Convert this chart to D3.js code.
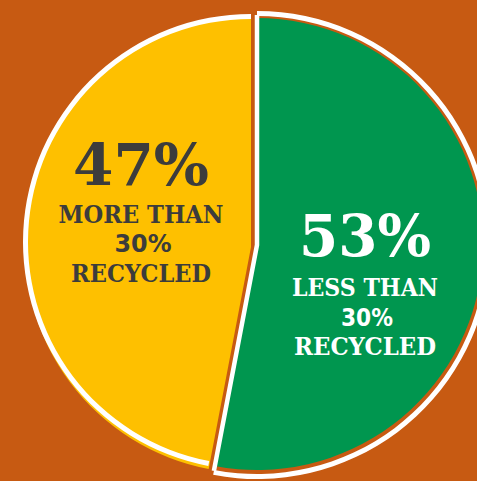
<!DOCTYPE html>
<html>
<head>
<meta charset="utf-8">
<script src="https://cdn.jsdelivr.net/npm/d3@7"></script>
<style>
  html, body { margin: 0; padding: 0; background: #c75a12; overflow: hidden; }
</style>
</head>
<body>
<div id="chart"></div>
<script>
// chart data
var categories = ["Less than 30% recycled", "More than 30% recycled"];
var values = [53, 47];
var pctLabels = ["53%", "47%"];
var subLabels = [["LESS THAN", "30%", "RECYCLED"], ["MORE THAN", "30%", "RECYCLED"]];
var colors = ["#00964f", "#fec000"];
var textColors = ["#ffffff", "#3c3c3c"];

var width = 477, height = 481;
var bg = "#c75a12";

var svg = d3.select("#chart").append("svg")
    .attr("width", width)
    .attr("height", height);

svg.append("rect")
    .attr("width", width)
    .attr("height", height)
    .attr("fill", bg);

var pie = d3.pie().sort(null).startAngle(0).endAngle(2 * Math.PI);
var slices = pie(values);

// each slice is drawn on its own, the green one pulled out a bit
var layout = [
    {cx: 257, cy: 245, rFill: 226, fillDy: -1, rRing: 229, ringW: 5, label: [108, 11]},
    {cx: 251, cy: 242, rFill: 226, fillDy: 0, rRing: 223, ringW: 5, label: [-110, -57]}
];

function arcR(r0, r1) { return d3.arc().innerRadius(r0).outerRadius(r1); }

// yellow slice first (it sits underneath)
var y = slices[1], ly = layout[1];
var gY = svg.append("g")
    .attr("transform", "translate(" + ly.cx + "," + ly.cy + ")");

gY.append("path")
    .attr("d", arcR(0, ly.rFill)(y))
    .attr("transform", "translate(0,5)")
    .attr("fill", colors[1]);

gY.append("path")
    .attr("d", arcR(0, ly.rFill)(y))
    .attr("fill", colors[1]);

gY.append("path")
    .attr("d", arcR(ly.rRing, ly.rRing + ly.ringW)(y))
    .attr("fill", "#ffffff");

// green slice
var g = slices[0], lg = layout[0];
var gG = svg.append("g")
    .attr("transform", "translate(" + lg.cx + "," + lg.cy + ")");

gG.append("path")
    .attr("d", arcR(0, lg.rRing + lg.ringW)(g))
    .attr("fill", bg);

gG.append("path")
    .attr("d", arcR(lg.rRing, lg.rRing + lg.ringW)(g))
    .attr("fill", "#ffffff");

gG.append("path")
    .attr("d", arcR(0, lg.rFill)(g))
    .attr("transform", "translate(0," + lg.fillDy + ")")
    .attr("fill", colors[0]);

function edgePt(a, r) { return [r * Math.sin(a), -r * Math.cos(a)]; }
var p0 = edgePt(g.startAngle, lg.rRing + 1), p1 = edgePt(g.endAngle, lg.rRing + 1);
gG.append("path")
    .attr("d", "M" + p0 + "L0,0L" + p1)
    .attr("fill", "none")
    .attr("stroke", "#ffffff")
    .attr("stroke-width", 4.5)
    .attr("stroke-linejoin", "miter");

// labels
var pctSize = 58, subSize = 23.5;
var pctWidth = [132, 136];
var subWidth = [[146, 52, 142], [165, 57, 140]];
var lineDy = [[0, 40, 70, 99], [0, 38, 67, 97]];

slices.forEach(function(d, i) {
    var L = layout[i];
    var x0 = L.cx + L.label[0], y0 = L.cy + L.label[1];
    var t = svg.append("g").attr("class", "label");

    t.append("text")
        .attr("x", x0)
        .attr("y", y0 + lineDy[i][0])
        .attr("text-anchor", "middle")
        .attr("font-family", "'DejaVu Serif', serif")
        .attr("font-weight", "bold")
        .attr("font-size", pctSize)
        .attr("textLength", pctWidth[i])
        .attr("lengthAdjust", "spacingAndGlyphs")
        .attr("fill", textColors[i])
        .text(pctLabels[i]);

    subLabels[i].forEach(function(s, j) {
        var isNum = j === 1;
        t.append("text")
            .attr("x", x0 + (isNum ? 2 : 0))
            .attr("y", y0 + lineDy[i][j + 1])
            .attr("text-anchor", "middle")
            .attr("font-family", isNum ? "'DejaVu Sans', sans-serif" : "'DejaVu Serif', serif")
            .attr("font-weight", "bold")
            .attr("font-size", isNum ? 25 : subSize)
            .attr("textLength", subWidth[i][j])
            .attr("lengthAdjust", "spacingAndGlyphs")
            .attr("fill", textColors[i])
            .text(s);
    });
});
</script>
</body>
</html>
